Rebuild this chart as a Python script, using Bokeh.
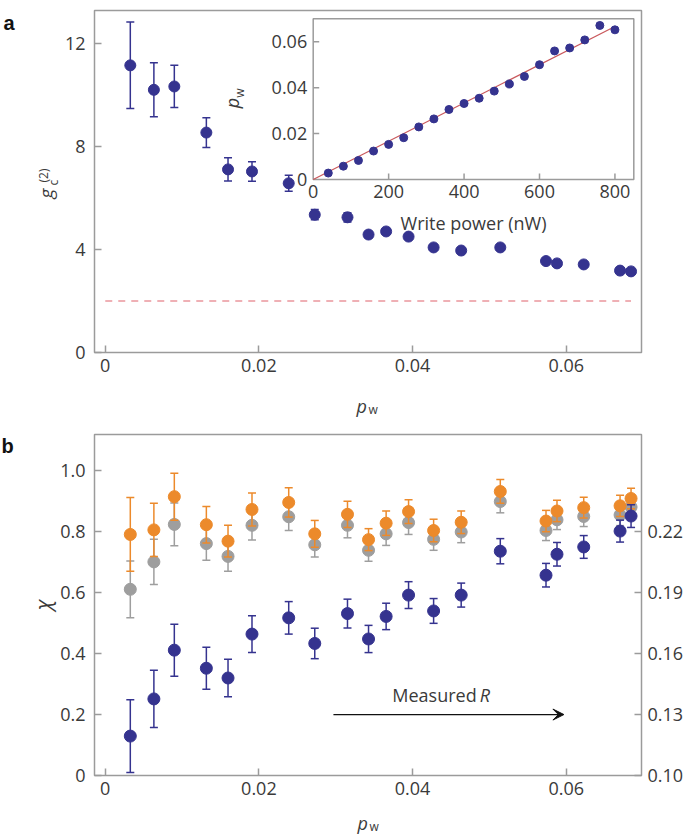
import math
from bokeh.plotting import figure
from bokeh.models import Range1d, LinearAxis, FixedTicker, Label, Arrow, VeeHead
from bokeh.layouts import column
from bokeh.embed import file_html
from bokeh.resources import INLINE
from bokeh.core.properties import value

# ---------------- data ----------------
PW = [0.00326, 0.00633, 0.00899, 0.01316, 0.01598, 0.0191, 0.02388, 0.02727, 0.03153, 0.03427,
      0.03656, 0.03948, 0.04274, 0.04633, 0.05142, 0.05737, 0.0588, 0.06228, 0.06701, 0.06844]
G2 = [11.15, 10.2, 10.33, 8.54, 7.11, 7.03, 6.57, 5.35, 5.25, 4.58,
      4.70, 4.50, 4.08, 3.96, 4.08, 3.55, 3.46, 3.42, 3.18, 3.15]
G2_ERR = [1.68, 1.05, 0.82, 0.58, 0.45, 0.38, 0.31, 0.2, 0.18, 0.13,
          0.12, 0.1, 0.1, 0.1, 0.1, 0.08, 0.08, 0.08, 0.08, 0.08]
G2_CLASSICAL = 2.0

WRITE_POWER = [40, 80, 120, 160, 200, 240, 280, 320, 360, 400,
               440, 480, 520, 560, 600, 640, 680, 720, 760, 800]
PW_INSET = [0.0028, 0.0058, 0.0083, 0.0124, 0.0153, 0.0182, 0.0229, 0.0264, 0.0305, 0.0331,
            0.0354, 0.0385, 0.0416, 0.0449, 0.0500, 0.0560, 0.0573, 0.0608, 0.0671, 0.0652]
PW_INSET_ERR = [0.0006, 0.0006, 0.0006, 0.0007, 0.0007, 0.0007, 0.0007, 0.0008, 0.0008, 0.0008,
                0.0008, 0.0008, 0.0009, 0.0009, 0.0009, 0.0010, 0.0010, 0.0010, 0.0011, 0.0011]

CHI_ORANGE = [0.791, 0.806, 0.915, 0.823, 0.769, 0.873, 0.896, 0.793, 0.857, 0.774,
              0.828, 0.866, 0.804, 0.831, 0.932, 0.835, 0.868, 0.879, 0.885, 0.909]
CHI_ORANGE_ERR = [0.121, 0.087, 0.077, 0.060, 0.052, 0.054, 0.048, 0.044, 0.043, 0.036,
                  0.040, 0.039, 0.037, 0.037, 0.039, 0.035, 0.035, 0.034, 0.035, 0.034]
CHI_GRAY = [0.611, 0.701, 0.824, 0.761, 0.719, 0.821, 0.849, 0.757, 0.821, 0.739,
            0.793, 0.830, 0.775, 0.799, 0.899, 0.804, 0.839, 0.850, 0.855, 0.881]
CHI_GRAY_ERR = [0.093, 0.074, 0.070, 0.055, 0.049, 0.048, 0.045, 0.040, 0.041, 0.036,
                0.038, 0.039, 0.036, 0.035, 0.037, 0.033, 0.032, 0.033, 0.035, 0.031]
R_MEASURED = [0.1194, 0.1377, 0.1617, 0.1528, 0.1480, 0.1696, 0.1776, 0.1650, 0.1797, 0.1672,
              0.1783, 0.1888, 0.1810, 0.1888, 0.2104, 0.1986, 0.2089, 0.2125, 0.2203, 0.2277]
R_ERR = [0.0179, 0.0141, 0.0128, 0.0103, 0.0092, 0.0090, 0.0080, 0.0075, 0.0071, 0.0067,
         0.0065, 0.0066, 0.0061, 0.0059, 0.0062, 0.0058, 0.0058, 0.0056, 0.0054, 0.0056]

X_TICKS = [0, 0.02, 0.04, 0.06]
X_LABELS = ["0", "0.02", "0.04", "0.06"]
GA_TICKS = [0, 4, 8, 12]
GA_LABELS = ["0", "4", "8", "12"]
CHI_TICKS = [0, 0.2, 0.4, 0.6, 0.8, 1.0]
CHI_LABELS = ["0", "0.2", "0.4", "0.6", "0.8", "1.0"]
R_TICKS = [0.10, 0.13, 0.16, 0.19, 0.22]
R_LABELS = ["0.10", "0.13", "0.16", "0.19", "0.22"]
INSET_X_TICKS = [0, 200, 400, 600, 800]
INSET_X_LABELS = ["0", "200", "400", "600", "800"]
INSET_Y_TICKS = [0, 0.02, 0.04, 0.06]
INSET_Y_LABELS = ["0", "0.02", "0.04", "0.06"]

# axis extents
X_LIM = (-0.0014, 0.0698)
G2_LIM = (0, 13.28)
CHI_LIM = (0, 1.119)
R0, R_PER_CHI = 0.10, 0.15
INSET_X_LIM = (0, 850)
INSET_Y_LIM = (0, 0.07)

# ---------------- layout / style ----------------
FONT = "Open Sans"
TXT = "#3a3a3a"
FRAME = "#9b9b9b"
BLUE = "#35338f"
ORANGE = "#ec8a2b"
GRAY = "#9e9e9e"
RED_DASH = "#e0636c"
RED_FIT = "#c9585c"
FS = "18px"

W = 685
HA, HB = 420, 416
BOX_A = (94, 641, 10, 352)        # left, right, top, bottom (canvas px)
BOX_B = (94, 641, 14, 355)
INSET_BOX = (312.7, 633.3, 18.3, 179)


def span(lo, hi, p0, p1, size):
    """range whose values lo, hi land at pixels p0, p1 of a canvas of given size"""
    per = (hi - lo) / (p1 - p0)
    start = lo - p0 * per
    return Range1d(start, start + size * per)


def xr(lim, box):
    return span(lim[0], lim[1], box[0], box[1], W)


def yr(lim, box, h):
    return span(lim[0], lim[1], h - box[3], h - box[2], h)


def make_fig(h, x_range, y_range):
    p = figure(width=W, height=h, x_range=x_range, y_range=y_range, output_backend="svg",
               toolbar_location=None, x_axis_location=None, y_axis_location=None,
               min_border=0, min_border_left=0, min_border_right=0, min_border_top=0,
               min_border_bottom=0)
    p.outline_line_color = None
    p.grid.visible = False
    return p


def axis_style(ax, ticks, labels, standoff):
    ax.ticker = FixedTicker(ticks=ticks)
    ax.major_label_overrides = dict(zip(ticks, labels))
    ax.axis_line_color = None
    ax.major_tick_in = 7
    ax.major_tick_out = 0
    ax.major_tick_line_color = FRAME
    ax.major_tick_line_width = 1.5
    ax.minor_tick_line_color = None
    ax.major_label_text_font = FONT
    ax.major_label_text_font_size = FS
    ax.major_label_text_color = TXT
    ax.major_label_standoff = standoff
    return ax


def errbars(p, x, y, err, color, cap=8, width=1.5, **kw):
    lo = [a - e for a, e in zip(y, err)]
    hi = [a + e for a, e in zip(y, err)]
    p.segment(x0=x, y0=lo, x1=x, y1=hi, line_color=color, line_width=width, **kw)
    p.scatter(x=list(x) + list(x), y=lo + hi, marker="dash", size=cap,
              line_color=color, line_width=width, **kw)


def lab(p, text, x, y, size=FS, fstyle="normal", angle=0, align="left", font=FONT, color=TXT):
    p.add_layout(Label(x=x, y=y, x_units="screen", y_units="screen", text=text, angle=angle,
                       text_font=font, text_font_size=size, text_font_style=fstyle,
                       text_align=align, text_baseline="alphabetic", text_color=color))


# ---------------- panel a ----------------
pa = make_fig(HA, xr(X_LIM, BOX_A), yr(G2_LIM, BOX_A, HA))
pa.quad(left=X_LIM[0], right=X_LIM[1], bottom=G2_LIM[0], top=G2_LIM[1], fill_color=None,
        line_color=FRAME, line_width=1.5)
pa.add_layout(axis_style(LinearAxis(fixed_location=G2_LIM[0]), X_TICKS, X_LABELS, 6), "below")
pa.add_layout(axis_style(LinearAxis(fixed_location=X_LIM[0]), GA_TICKS, GA_LABELS, 9), "left")

pa.line(x=[0, max(PW)], y=[G2_CLASSICAL, G2_CLASSICAL], line_color=RED_DASH, line_width=1.2,
        line_dash="7 6")
errbars(pa, PW, G2, G2_ERR, BLUE, cap=8)
pa.scatter(x=PW, y=G2, marker="circle", size=11, fill_color=BLUE, line_color=BLUE)

# inset
pa.extra_x_ranges = {"ix": xr(INSET_X_LIM, INSET_BOX)}
pa.extra_y_ranges = {"iy": yr(INSET_Y_LIM, INSET_BOX, HA)}
IK = dict(x_range_name="ix", y_range_name="iy")

pa.quad(left=INSET_X_LIM[0], right=INSET_X_LIM[1], bottom=INSET_Y_LIM[0], top=INSET_Y_LIM[1],
        fill_color="white", line_color=FRAME, line_width=1.5, **IK)
pa.ray(x=INSET_X_TICKS[1:], y=[INSET_Y_LIM[0]] * (len(INSET_X_TICKS) - 1), length=6,
       length_units="screen", angle=math.pi / 2, line_color=FRAME, line_width=1.5, **IK)
pa.ray(x=[INSET_X_LIM[0]] * (len(INSET_Y_TICKS) - 1), y=INSET_Y_TICKS[1:], length=6,
       length_units="screen", angle=0, line_color=FRAME, line_width=1.5, **IK)
pa.text(x=INSET_X_TICKS, y=[INSET_Y_LIM[0]] * len(INSET_X_TICKS), text=INSET_X_LABELS,
        y_offset=5, text_align="center", text_baseline="top", text_font=value(FONT),
        text_font_size=FS, text_color=TXT, **IK)
pa.text(x=[INSET_X_LIM[0]] * len(INSET_Y_TICKS), y=INSET_Y_TICKS, text=INSET_Y_LABELS,
        x_offset=-6, text_align="right", text_baseline="middle", text_font=value(FONT),
        text_font_size=FS, text_color=TXT, **IK)

slope = sum(a * b for a, b in zip(WRITE_POWER, PW_INSET)) / sum(a * a for a in WRITE_POWER)
pa.line(x=[0, max(WRITE_POWER)], y=[0, slope * max(WRITE_POWER)], line_color=RED_FIT,
        line_width=1.2, **IK)
errbars(pa, WRITE_POWER, PW_INSET, PW_INSET_ERR, BLUE, cap=6, width=1.2, **IK)
pa.scatter(x=WRITE_POWER, y=PW_INSET, marker="circle", size=8, fill_color=BLUE,
           line_color=BLUE, **IK)

xmid_in = sum(INSET_X_LIM) / 2
ymid_in = sum(INSET_Y_LIM) / 2
pa.add_layout(Label(x=xmid_in, y=INSET_Y_LIM[0], y_offset=-43, text="Write power (nW)",
                    text_align="center", text_baseline="alphabetic", text_font=FONT,
                    text_font_size=FS, text_color=TXT, **IK))
pa.add_layout(Label(x=INSET_X_LIM[0], y=ymid_in, x_offset=-69, y_offset=-9, text="p",
                    angle=math.pi / 2, text_font=FONT, text_font_size=FS,
                    text_font_style="italic", text_color=TXT, **IK))
pa.add_layout(Label(x=INSET_X_LIM[0], y=ymid_in, x_offset=-65, y_offset=1.5, text="w",
                    angle=math.pi / 2, text_font=FONT, text_font_size="12px",
                    text_color=TXT, **IK))

# outer labels panel a (canvas px from bottom-left)
lab(pa, "g", 45, 222, size="19px", fstyle="italic", angle=math.pi / 2)
lab(pa, "c", 53, 235, size="12px", angle=math.pi / 2)
lab(pa, "(2)", 43, 238, size="12px", angle=math.pi / 2)
lab(pa, "p", 356, 15, fstyle="italic")
lab(pa, "w", 368, 11, size="12px")
lab(pa, "a", 3, 398, size="20px", fstyle="bold", font="Liberation Sans", color="#111111")

# ---------------- panel b ----------------
pb = make_fig(HB, xr(X_LIM, BOX_B), yr(CHI_LIM, BOX_B, HB))
R_LIM = (R0 + R_PER_CHI * CHI_LIM[0], R0 + R_PER_CHI * CHI_LIM[1])
pb.extra_y_ranges = {"r": yr(R_LIM, BOX_B, HB)}
pb.quad(left=X_LIM[0], right=X_LIM[1], bottom=CHI_LIM[0], top=CHI_LIM[1], fill_color=None,
        line_color=FRAME, line_width=1.5)
pb.add_layout(axis_style(LinearAxis(fixed_location=CHI_LIM[0]), X_TICKS, X_LABELS, 6), "below")
pb.add_layout(axis_style(LinearAxis(fixed_location=X_LIM[0]), CHI_TICKS, CHI_LABELS, 9), "left")
pb.add_layout(axis_style(LinearAxis(fixed_location=X_LIM[1], y_range_name="r"), R_TICKS,
                         R_LABELS, 6), "right")

errbars(pb, PW, CHI_GRAY, CHI_GRAY_ERR, GRAY, cap=8)
pb.scatter(x=PW, y=CHI_GRAY, marker="circle", size=12, fill_color=GRAY, line_color=GRAY)
errbars(pb, PW, CHI_ORANGE, CHI_ORANGE_ERR, ORANGE, cap=8)
pb.scatter(x=PW, y=CHI_ORANGE, marker="circle", size=12, fill_color=ORANGE, line_color=ORANGE)
errbars(pb, PW, R_MEASURED, R_ERR, BLUE, cap=8, y_range_name="r")
pb.scatter(x=PW, y=R_MEASURED, marker="circle", size=12, fill_color=BLUE, line_color=BLUE,
           y_range_name="r")

ARROW_X = (0.0297, 0.0597)
ARROW_R = 0.13
pb.add_layout(Arrow(x_start=ARROW_X[0], y_start=ARROW_R, x_end=ARROW_X[1], y_end=ARROW_R,
                    y_range_name="r", line_width=1.3, line_color="#111111",
                    end=VeeHead(size=11, fill_color="#111111", line_color="#111111")))
amid = sum(ARROW_X) / 2
pb.add_layout(Label(x=amid, y=ARROW_R, x_offset=28, y_offset=8, y_range_name="r", text="Measured",
                    text_align="right", text_font=FONT, text_font_size=FS, text_color=TXT))
pb.add_layout(Label(x=amid, y=ARROW_R, x_offset=31, y_offset=8, y_range_name="r", text="R",
                    text_align="left", text_font=FONT, text_font_size=FS,
                    text_font_style="italic", text_color=TXT))

lab(pb, "χ", 42, 231.5, size="21px", fstyle="italic", angle=math.pi / 2, align="center")
lab(pb, "p", 357, 14, fstyle="italic")
lab(pb, "w", 369, 10, size="12px")
lab(pb, "b", 1, 391, size="20px", fstyle="bold", font="Liberation Sans", color="#111111")

layout = column(pa, pb, spacing=0)
open("out.html", "w").write(file_html(layout, INLINE))
